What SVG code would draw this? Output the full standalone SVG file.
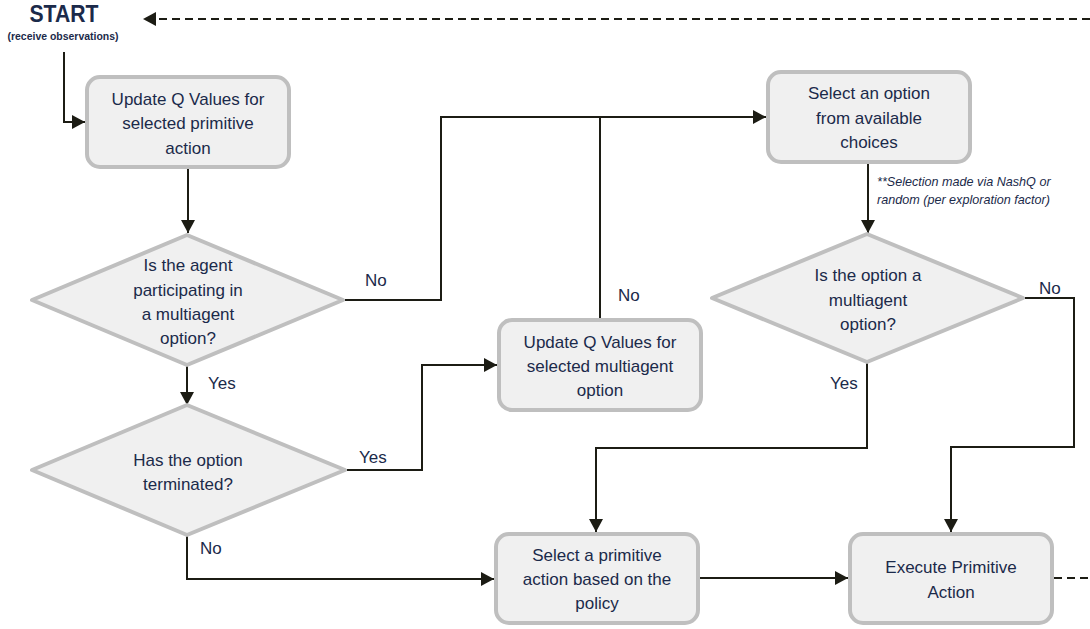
<svg xmlns="http://www.w3.org/2000/svg" width="1090" height="629" viewBox="0 0 1090 629">
  <style>
    .box { fill: #f0f0f0; stroke: #bfbfbf; stroke-width: 4; }
    .dia { fill: #f0f0f0; stroke: #bfbfbf; stroke-width: 4; stroke-linejoin: round; }
    .t { font-family: "Liberation Sans", Arial, sans-serif; font-size: 17px; fill: #1b2a4a; text-anchor: middle; }
    .lbl { font-family: "Liberation Sans", Arial, sans-serif; font-size: 17px; fill: #1b2a4a; }
    .note { font-family: "Liberation Sans", Arial, sans-serif; font-size: 12.6px; font-style: italic; fill: #1b2a4a; }
    .title { font-family: "Liberation Sans", Arial, sans-serif; font-weight: bold; fill: #1b2a4a; text-anchor: middle; }
    .ln { fill: none; stroke: #1c1c14; stroke-width: 2; }
    .dash { fill: none; stroke: #1c1c14; stroke-width: 2; stroke-dasharray: 8 5; }
  </style>
  <defs>
    <marker id="arr" markerUnits="userSpaceOnUse" markerWidth="14" markerHeight="14" refX="13" refY="7" orient="auto">
      <path d="M0,0 L13,7 L0,14 Z" fill="#1c1c14"/>
    </marker>
  </defs>

  <rect width="1090" height="629" fill="#ffffff"/>

  <!-- connectors -->
  <g id="connectors">
    <path class="dash" d="M1090,19 H143" marker-end="url(#arr)"/>
    <path class="ln" d="M64,52 V122 H85" marker-end="url(#arr)"/>
    <path class="ln" d="M188,169 V233" marker-end="url(#arr)"/>
    <path class="ln" d="M345,300 H441 V117 H766" marker-end="url(#arr)"/>
    <path class="ln" d="M600,318 V117"/>
    <path class="ln" d="M187,365 V405" marker-end="url(#arr)"/>
    <path class="ln" d="M347,470 H422 V365 H497" marker-end="url(#arr)"/>
    <path class="ln" d="M187,535 V579 H494" marker-end="url(#arr)"/>
    <path class="ln" d="M868,163 V233" marker-end="url(#arr)"/>
    <path class="ln" d="M867,363 V448 H596 V532" marker-end="url(#arr)"/>
    <path class="ln" d="M1025,298 H1074 V447 H951 V532" marker-end="url(#arr)"/>
    <path class="ln" d="M700,578 H848" marker-end="url(#arr)"/>
    <path class="dash" d="M1054,578 H1090"/>
  </g>

  <!-- start label -->
  <g id="start">
    <text class="title" x="64" y="22" font-size="24" textLength="69" lengthAdjust="spacingAndGlyphs">START</text>
    <text class="title" x="63" y="40" font-size="10" textLength="111" lengthAdjust="spacingAndGlyphs">(receive observations)</text>
  </g>

  <g id="update-primitive">
    <rect class="box" x="87" y="77" width="202" height="90" rx="13"/>
    <text class="t" x="188" y="105">Update Q Values for</text>
    <text class="t" x="188" y="129">selected primitive</text>
    <text class="t" x="188" y="154">action</text>
  </g>

  <g id="participating">
    <path class="dia" d="M32,300 L187,235 L343,300 L187,365 Z"/>
    <text class="t" x="188" y="271">Is the agent</text>
    <text class="t" x="188" y="296">participating in</text>
    <text class="t" x="188" y="320">a multiagent</text>
    <text class="t" x="188" y="344">option?</text>
  </g>

  <g id="terminated">
    <path class="dia" d="M32,470 L187,405 L345,470 L187,535 Z"/>
    <text class="t" x="188" y="466">Has the option</text>
    <text class="t" x="188" y="490">terminated?</text>
  </g>

  <g id="update-multiagent">
    <rect class="box" x="499" y="320" width="202" height="90" rx="13"/>
    <text class="t" x="600" y="348">Update Q Values for</text>
    <text class="t" x="600" y="372">selected multiagent</text>
    <text class="t" x="600" y="396">option</text>
  </g>

  <g id="select-option">
    <rect class="box" x="768" y="72" width="202" height="90" rx="13"/>
    <text class="t" x="869" y="99">Select an option</text>
    <text class="t" x="869" y="124">from available</text>
    <text class="t" x="869" y="148">choices</text>
  </g>

  <g id="selection-note">
    <text class="note" x="877" y="186">**Selection made via NashQ or</text>
    <text class="note" x="877" y="204">random (per exploration factor)</text>
  </g>

  <g id="is-multiagent">
    <path class="dia" d="M712,298 L867,234 L1023,298 L867,362 Z"/>
    <text class="t" x="868" y="281">Is the option a</text>
    <text class="t" x="868" y="306">multiagent</text>
    <text class="t" x="868" y="330">option?</text>
  </g>

  <g id="select-primitive">
    <rect class="box" x="496" y="534" width="202" height="89" rx="13"/>
    <text class="t" x="597" y="561">Select a primitive</text>
    <text class="t" x="597" y="585">action based on the</text>
    <text class="t" x="597" y="609">policy</text>
  </g>

  <g id="execute">
    <rect class="box" x="850" y="534" width="202" height="89" rx="13"/>
    <text class="t" x="951" y="573">Execute Primitive</text>
    <text class="t" x="951" y="598">Action</text>
  </g>

  <!-- branch labels -->
  <g id="labels">
    <text class="lbl" x="365" y="286">No</text>
    <text class="lbl" x="208" y="389">Yes</text>
    <text class="lbl" x="359" y="463">Yes</text>
    <text class="lbl" x="200" y="554">No</text>
    <text class="lbl" x="618" y="301">No</text>
    <text class="lbl" x="1039" y="294">No</text>
    <text class="lbl" x="830" y="389">Yes</text>
  </g>
</svg>
